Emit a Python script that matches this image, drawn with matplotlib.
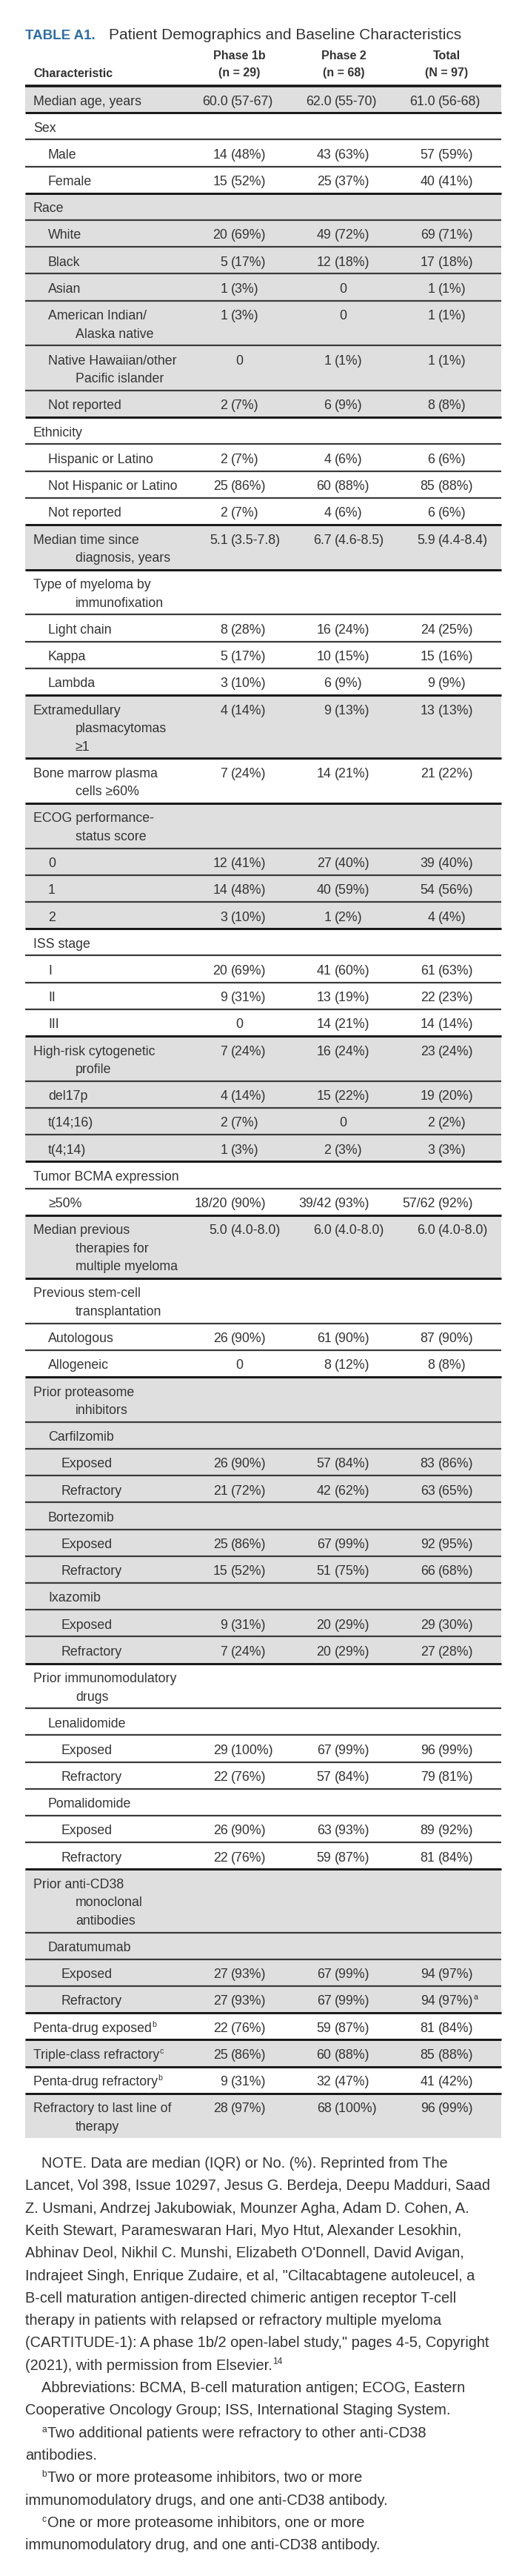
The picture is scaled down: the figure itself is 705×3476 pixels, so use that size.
import matplotlib
matplotlib.use("Agg")
import matplotlib.pyplot as plt
from matplotlib import font_manager

# table rows: label, indent level, values per column ("^x" = superscript mark)
labels = [
    "Median age, years", "Sex", "Male", "Female", "Race", "White", "Black", "Asian",
    "American Indian/\nAlaska native", "Native Hawaiian/other\nPacific islander", "Not reported",
    "Ethnicity", "Hispanic or Latino", "Not Hispanic or Latino", "Not reported",
    "Median time since\ndiagnosis, years", "Type of myeloma by\nimmunofixation",
    "Light chain", "Kappa", "Lambda", "Extramedullary\nplasmacytomas\n\u22651",
    "Bone marrow plasma\ncells \u226560%", "ECOG performance-\nstatus score", "0", "1", "2",
    "ISS stage", "I", "II", "III", "High-risk cytogenetic\nprofile", "del17p", "t(14;16)",
    "t(4;14)", "Tumor BCMA expression", "\u226550%",
    "Median previous\ntherapies for\nmultiple myeloma", "Previous stem-cell\ntransplantation",
    "Autologous", "Allogeneic", "Prior proteasome\ninhibitors", "Carfilzomib", "Exposed",
    "Refractory", "Bortezomib", "Exposed", "Refractory", "Ixazomib", "Exposed", "Refractory",
    "Prior immunomodulatory\ndrugs", "Lenalidomide", "Exposed", "Refractory", "Pomalidomide",
    "Exposed", "Refractory", "Prior anti-CD38\nmonoclonal\nantibodies", "Daratumumab",
    "Exposed", "Refractory", "Penta-drug exposed^b", "Triple-class refractory^c",
    "Penta-drug refractory^b", "Refractory to last line of\ntherapy",
]
levels = [0, 0, 1, 1, 0, 1, 1, 1, 1, 1, 1, 0, 1, 1, 1, 0, 0, 1, 1, 1, 0, 0, 0, 1, 1, 1,
          0, 1, 1, 1, 0, 1, 1, 1, 0, 1, 0, 0, 1, 1, 0, 1, 2, 2, 1, 2, 2, 1, 2, 2,
          0, 1, 2, 2, 1, 2, 2, 0, 1, 2, 2, 0, 0, 0, 0]
phase1b = [
    "60.0 (57-67)", "", "14 (48%)", "15 (52%)", "", "20 (69%)", "5 (17%)", "1 (3%)", "1 (3%)", "0",
    "2 (7%)", "", "2 (7%)", "25 (86%)", "2 (7%)", "5.1 (3.5-7.8)", "", "8 (28%)", "5 (17%)",
    "3 (10%)", "4 (14%)", "7 (24%)", "", "12 (41%)", "14 (48%)", "3 (10%)", "", "20 (69%)",
    "9 (31%)", "0", "7 (24%)", "4 (14%)", "2 (7%)", "1 (3%)", "", "18/20 (90%)", "5.0 (4.0-8.0)",
    "", "26 (90%)", "0", "", "", "26 (90%)", "21 (72%)", "", "25 (86%)", "15 (52%)", "",
    "9 (31%)", "7 (24%)", "", "", "29 (100%)", "22 (76%)", "", "26 (90%)", "22 (76%)", "", "",
    "27 (93%)", "27 (93%)", "22 (76%)", "25 (86%)", "9 (31%)", "28 (97%)",
]
phase2 = [
    "62.0 (55-70)", "", "43 (63%)", "25 (37%)", "", "49 (72%)", "12 (18%)", "0", "0", "1 (1%)",
    "6 (9%)", "", "4 (6%)", "60 (88%)", "4 (6%)", "6.7 (4.6-8.5)", "", "16 (24%)", "10 (15%)",
    "6 (9%)", "9 (13%)", "14 (21%)", "", "27 (40%)", "40 (59%)", "1 (2%)", "", "41 (60%)",
    "13 (19%)", "14 (21%)", "16 (24%)", "15 (22%)", "0", "2 (3%)", "", "39/42 (93%)",
    "6.0 (4.0-8.0)", "", "61 (90%)", "8 (12%)", "", "", "57 (84%)", "42 (62%)", "", "67 (99%)",
    "51 (75%)", "", "20 (29%)", "20 (29%)", "", "", "67 (99%)", "57 (84%)", "", "63 (93%)",
    "59 (87%)", "", "", "67 (99%)", "67 (99%)", "59 (87%)", "60 (88%)", "32 (47%)", "68 (100%)",
]
total = [
    "61.0 (56-68)", "", "57 (59%)", "40 (41%)", "", "69 (71%)", "17 (18%)", "1 (1%)", "1 (1%)",
    "1 (1%)", "8 (8%)", "", "6 (6%)", "85 (88%)", "6 (6%)", "5.9 (4.4-8.4)", "", "24 (25%)",
    "15 (16%)", "9 (9%)", "13 (13%)", "21 (22%)", "", "39 (40%)", "54 (56%)", "4 (4%)", "",
    "61 (63%)", "22 (23%)", "14 (14%)", "23 (24%)", "19 (20%)", "2 (2%)", "3 (3%)", "",
    "57/62 (92%)", "6.0 (4.0-8.0)", "", "87 (90%)", "8 (8%)", "", "", "83 (86%)", "63 (65%)", "",
    "92 (95%)", "66 (68%)", "", "29 (30%)", "27 (28%)", "", "", "96 (99%)", "79 (81%)", "",
    "89 (92%)", "81 (84%)", "", "", "94 (97%)", "94 (97%)^a", "81 (84%)", "85 (88%)", "41 (42%)",
    "96 (99%)",
]
col_heads = ["Phase 1b\n(n = 29)", "Phase 2\n(n = 68)", "Total\n(N = 97)"]

notes = [
    (1, "", "NOTE. Data are median (IQR) or No. (%). Reprinted from The"),
    (0, "", "Lancet, Vol 398, Issue 10297, Jesus G. Berdeja, Deepu Madduri, Saad"),
    (0, "", "Z. Usmani, Andrzej Jakubowiak, Mounzer Agha, Adam D. Cohen, A."),
    (0, "", "Keith Stewart, Parameswaran Hari, Myo Htut, Alexander Lesokhin,"),
    (0, "", "Abhinav Deol, Nikhil C. Munshi, Elizabeth O'Donnell, David Avigan,"),
    (0, "", "Indrajeet Singh, Enrique Zudaire, et al, \"Ciltacabtagene autoleucel, a"),
    (0, "", "B-cell maturation antigen-directed chimeric antigen receptor T-cell"),
    (0, "", "therapy in patients with relapsed or refractory multiple myeloma"),
    (0, "", "(CARTITUDE-1): A phase 1b/2 open-label study,\" pages 4-5, Copyright"),
    (0, "", "(2021), with permission from Elsevier.^14"),
    (1, "", "Abbreviations: BCMA, B-cell maturation antigen; ECOG, Eastern"),
    (0, "", "Cooperative Oncology Group; ISS, International Staging System."),
    (1, "a", "Two additional patients were refractory to other anti-CD38"),
    (0, "", "antibodies."),
    (1, "b", "Two or more proteasome inhibitors, two or more"),
    (0, "", "immunomodulatory drugs, and one anti-CD38 antibody."),
    (1, "c", "One or more proteasome inhibitors, one or more"),
    (0, "", "immunomodulatory drug, and one anti-CD38 antibody."),
]

names = {f.name for f in font_manager.fontManager.ttflist}
BODY = ["Liberation Sans", "DejaVu Sans"]
if "Liberation Sans Narrow" in names:
    HEAD = ["Liberation Sans Narrow", "DejaVu Sans"]
    head_fs, tag_fs = 14, 16.5
else:
    HEAD = BODY
    head_fs, tag_fs = 11.5, 13.5

TXT = "#333333"
SHADE = "#e0dfe0"
BLUE = "#2c6ea6"
body_fs = 12.8
note_fs = 14.4

W, H = 705, 3476
fig = plt.figure(figsize=(W / 100, H / 100), dpi=100)
ax = fig.add_axes([0, 0, 1, 1])
ax.set_xlim(0, W)
ax.set_ylim(H, 0)
ax.axis("off")

left, right = 34, 677
lvl_x = [45, 65, 83]
cont_x = 102
anchors = [312, 452, 592]
zero_x = [323, 463, 603]
head_x = [323, 464, 603]
row_h, line_h = 36.2, 24.5
px = 0.72  # px -> points


def put(x, y, s, fs, family, ha="left", **kw):
    sup = ""
    if "^" in s:
        s, sup = s.split("^")
    t = ax.text(x, y, s, fontsize=fs, family=family, ha=ha, va="baseline", color=TXT, **kw)
    if sup:
        ax.annotate(sup, xy=(1, 1), xycoords=t, xytext=(0, 1.5), textcoords="offset points",
                    ha="left", va="top", fontsize=fs * 0.6, family=family, color=TXT)
    return t


# title
ax.text(left, 53, "TABLE A1.", fontsize=tag_fs, family=HEAD, weight="bold", color=BLUE,
        va="baseline")
ax.text(147, 53, "Patient Demographics and Baseline Characteristics", fontsize=15,
        family=BODY, color=TXT, va="baseline")

# column headers
ax.text(lvl_x[0], 104, "Characteristic", fontsize=head_fs, family=HEAD, weight="bold",
        color=TXT, va="baseline")
for cx, h in zip(head_x, col_heads):
    l1, l2 = h.split("\n")
    ax.text(cx, 80, l1, fontsize=head_fs, family=HEAD, weight="bold", color=TXT,
            ha="center", va="baseline")
    ax.text(cx, 103.5, l2, fontsize=head_fs, family=HEAD, weight="bold", color=TXT,
            ha="center", va="baseline")
ax.plot([left, right], [116, 116], color="#111111", lw=3.5 * px, solid_capstyle="butt")

# body
top = 116
group = -1
for i, lab in enumerate(labels):
    n = lab.count("\n") + 1
    h = row_h + line_h * (n - 1)
    if levels[i] == 0:
        group += 1
    if group % 2 == 0:
        ax.fill_between([left, right], top, top + h, color=SHADE, lw=0)
    base = top + 25.5
    for k, part in enumerate(lab.split("\n")):
        x = lvl_x[levels[i]] if k == 0 else cont_x
        put(x, base + k * line_h, part, body_fs, BODY)
    for c, col in enumerate([phase1b, phase2, total]):
        v = col[i]
        if not v:
            continue
        if " (" in v:
            num, rest = v.split(" (", 1)
            put(anchors[c] - 4.5, base, num, body_fs, BODY, ha="right")
            put(anchors[c], base, "(" + rest, body_fs, BODY)
        else:
            put(zero_x[c], base, v, body_fs, BODY, ha="center")
    bottom = top + h
    if i < len(labels) - 1:
        thick = levels[i + 1] == 0
        ax.plot([left, right], [bottom, bottom], color="#1a1a1a" if thick else "#3a3a3a",
                lw=(3.0 if thick else 2.2) * px, solid_capstyle="butt")
    top = bottom

# notes
y = 2919 + 6
for indent, mark, s in notes:
    x = 56.5 if indent else left
    if mark:
        ax.text(x, y - 7, mark, fontsize=note_fs * 0.6, family=BODY, color=TXT, va="baseline")
        x += 8
    put(x, y, s, note_fs, BODY)
    y += 30.3

fig.savefig("out.png", dpi=100)
